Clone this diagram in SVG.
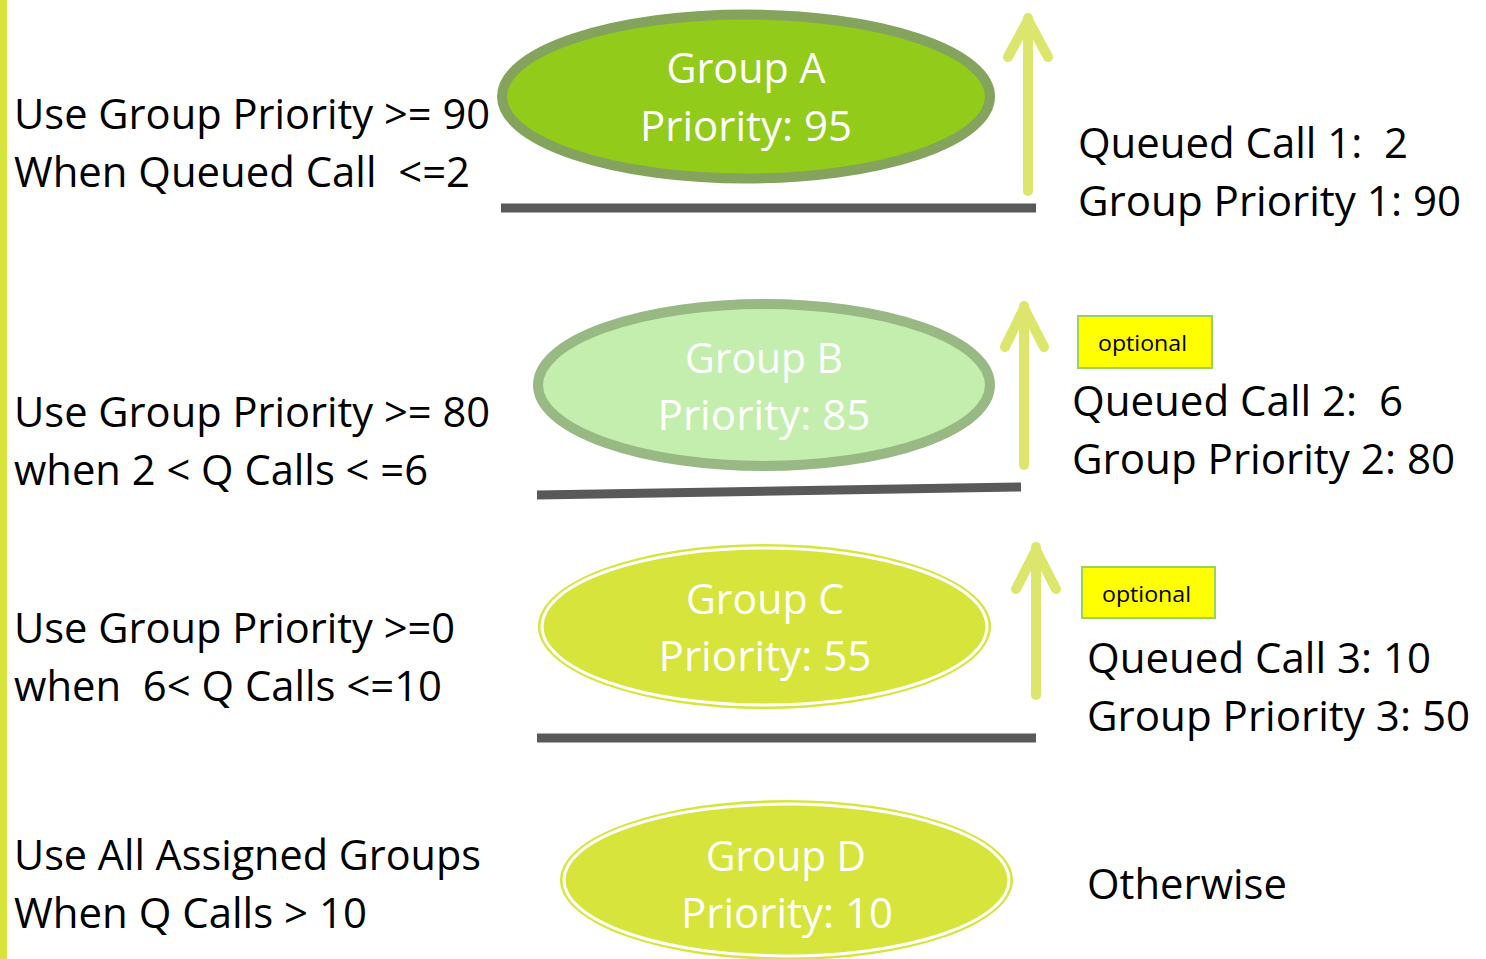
<svg xmlns="http://www.w3.org/2000/svg" width="1486" height="959" viewBox="0 0 1486 959">
<style>
  text { font-family: "Open Sans", "Noto Sans", "Liberation Sans", sans-serif; white-space: pre; }
  .lbl { font-size: 42px; fill: #000; }
  .in { font-size: 42px; fill: #fff; text-anchor: middle; }
  .opt { font-size: 22px; fill: #000; }
  .floor { stroke: #595959; stroke-width: 9; fill: none; }
  .arrow { stroke: #dce66c; stroke-width: 10; fill: none; stroke-linecap: round; stroke-linejoin: round; }
  .optbox { fill: #ffff00; stroke: #9bd35a; stroke-width: 2; }
</style>
<rect x="0" y="0" width="1486" height="959" fill="#fff"/>
<rect x="0" y="0" width="7" height="959" fill="#d6e43b"/>

<g id="labels-left">
  <text class="lbl" x="14" y="129" textLength="476" lengthAdjust="spacingAndGlyphs">Use Group Priority &gt;= 90</text>
  <text class="lbl" x="14" y="187" textLength="456" lengthAdjust="spacingAndGlyphs">When Queued Call  &lt;=2</text>
  <text class="lbl" x="14" y="427" textLength="476" lengthAdjust="spacingAndGlyphs">Use Group Priority &gt;= 80</text>
  <text class="lbl" x="14" y="485" textLength="414" lengthAdjust="spacingAndGlyphs">when 2 &lt; Q Calls &lt; =6</text>
  <text class="lbl" x="14" y="643" textLength="441" lengthAdjust="spacingAndGlyphs">Use Group Priority &gt;=0</text>
  <text class="lbl" x="14" y="701" textLength="428" lengthAdjust="spacingAndGlyphs">when  6&lt; Q Calls &lt;=10</text>
  <text class="lbl" x="14" y="870" textLength="467" lengthAdjust="spacingAndGlyphs">Use All Assigned Groups</text>
  <text class="lbl" x="14" y="928" textLength="353" lengthAdjust="spacingAndGlyphs">When Q Calls &gt; 10</text>
</g>

<g id="labels-right">
  <text class="lbl" x="1078" y="158" textLength="330" lengthAdjust="spacingAndGlyphs">Queued Call 1:  2</text>
  <text class="lbl" x="1078" y="216" textLength="383" lengthAdjust="spacingAndGlyphs">Group Priority 1: 90</text>
  <text class="lbl" x="1072" y="416" textLength="331" lengthAdjust="spacingAndGlyphs">Queued Call 2:  6</text>
  <text class="lbl" x="1072" y="474" textLength="383" lengthAdjust="spacingAndGlyphs">Group Priority 2: 80</text>
  <text class="lbl" x="1087" y="673" textLength="344" lengthAdjust="spacingAndGlyphs">Queued Call 3: 10</text>
  <text class="lbl" x="1087" y="731" textLength="383" lengthAdjust="spacingAndGlyphs">Group Priority 3: 50</text>
  <text class="lbl" x="1087" y="899" textLength="200" lengthAdjust="spacingAndGlyphs">Otherwise</text>
</g>

<g id="optional-1">
  <rect class="optbox" x="1078" y="316" width="134" height="52"/>
  <text class="opt" x="1098" y="351" textLength="89" lengthAdjust="spacingAndGlyphs">optional</text>
</g>
<g id="optional-2">
  <rect class="optbox" x="1082" y="567" width="133" height="51"/>
  <text class="opt" x="1102" y="602" textLength="89" lengthAdjust="spacingAndGlyphs">optional</text>
</g>

<g id="connectors">
  <line class="floor" x1="501" y1="208" x2="1036" y2="208"/>
  <line class="floor" x1="537" y1="495" x2="1021" y2="487"/>
  <line class="floor" x1="537" y1="738" x2="1036" y2="738"/>
  <path class="arrow" d="M1028,191 V18" stroke-linecap="butt"/>
  <path class="arrow" d="M1008,57 L1028,20 L1048,57"/>
  <path class="arrow" d="M1024,465 V306" stroke-linecap="butt"/>
  <path class="arrow" d="M1005,347 L1024,308 L1044,347"/>
  <path class="arrow" d="M1036,695 V547" stroke-linecap="butt"/>
  <path class="arrow" d="M1016,589 L1036,550 L1056,589"/>
</g>

<g id="group-a">
  <ellipse cx="746" cy="96.5" rx="244" ry="82" fill="#92cb1a" stroke="#84a45e" stroke-width="10"/>
  <text class="in" x="746" y="83" textLength="159" lengthAdjust="spacingAndGlyphs">Group A</text>
  <text class="in" x="746" y="141" textLength="212" lengthAdjust="spacingAndGlyphs">Priority: 95</text>
</g>
<g id="group-b">
  <ellipse cx="764" cy="385" rx="226" ry="81" fill="#c3eead" stroke="#98b884" stroke-width="10"/>
  <text class="in" x="764" y="373" textLength="158" lengthAdjust="spacingAndGlyphs">Group B</text>
  <text class="in" x="764" y="430" textLength="213" lengthAdjust="spacingAndGlyphs">Priority: 85</text>
</g>
<g id="group-c">
  <ellipse cx="764.5" cy="626.5" rx="226.5" ry="82.5" fill="#d6e43b"/>
  <ellipse cx="764.5" cy="626.5" rx="222.5" ry="78.5" fill="none" stroke="#fff" stroke-width="3"/>
  <text class="in" x="765" y="614" textLength="158" lengthAdjust="spacingAndGlyphs">Group C</text>
  <text class="in" x="765" y="671" textLength="213" lengthAdjust="spacingAndGlyphs">Priority: 55</text>
</g>
<g id="group-d">
  <ellipse cx="786.5" cy="880" rx="226.5" ry="80" fill="#d6e43b"/>
  <ellipse cx="786.5" cy="880" rx="222.5" ry="76" fill="none" stroke="#fff" stroke-width="3"/>
  <text class="in" x="786" y="871" textLength="160" lengthAdjust="spacingAndGlyphs">Group D</text>
  <text class="in" x="787" y="928" textLength="212" lengthAdjust="spacingAndGlyphs">Priority: 10</text>
</g>
</svg>
